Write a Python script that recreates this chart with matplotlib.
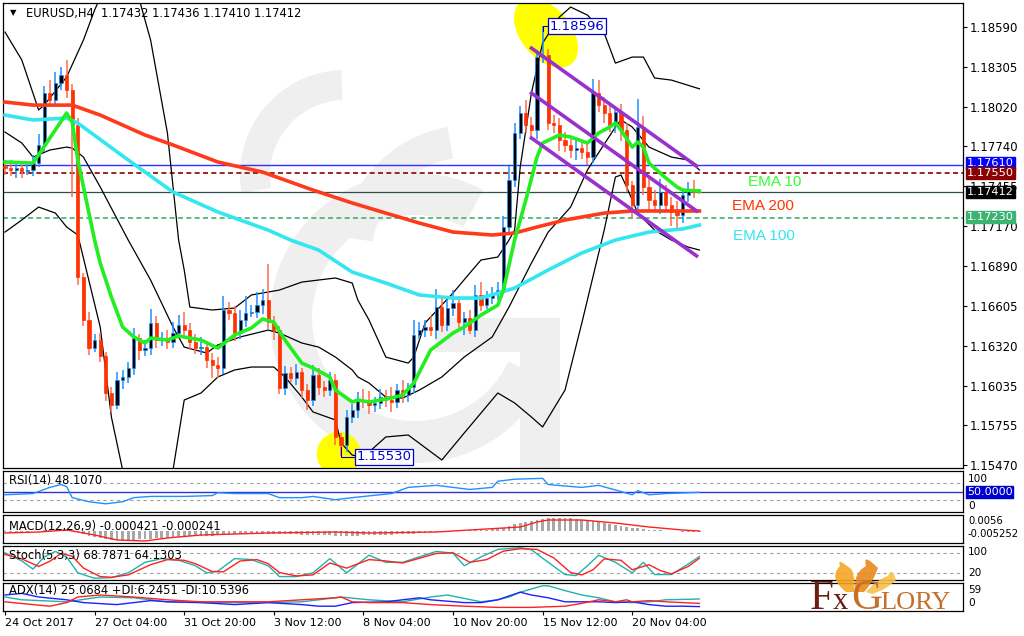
import matplotlib.pyplot as plt
import matplotlib.patches as mpatches
import matplotlib.transforms as mtrans
from matplotlib.path import Path
import numpy as np

plt.rcParams['font.family'] = ['DejaVu Sans']

# ---- EURUSD H4, bars from 24 Oct 2017 12:00 (one entry per bar) ----
first_open = 1.17600
closes = [1.17586, 1.17572, 1.17586, 1.17565, 1.17572, 1.17621, 1.17750, 1.18120, 1.18070, 1.18191,
          1.18248, 1.18141, 1.17892, 1.16810, 1.16504, 1.16304, 1.16361, 1.16247, 1.15984, 1.15898,
          1.16076, 1.16098, 1.16162, 1.16375, 1.16290, 1.16304, 1.16482, 1.16361, 1.16375, 1.16347,
          1.16411, 1.16468, 1.16432, 1.16347, 1.16304, 1.16311, 1.16219, 1.16183, 1.16162, 1.16575,
          1.16553, 1.16411, 1.16504, 1.16553, 1.16560, 1.16610, 1.16646, 1.16489, 1.16432, 1.16019,
          1.16126, 1.16091, 1.16133, 1.16005, 1.15934, 1.16112, 1.16027, 1.16005, 1.16076, 1.15671,
          1.15614, 1.15813, 1.15863, 1.15934, 1.15930, 1.15898, 1.15913, 1.15955, 1.15934, 1.15920,
          1.16005, 1.15970, 1.16027, 1.16397, 1.16432, 1.16454, 1.16432, 1.16596, 1.16468, 1.16589,
          1.16625, 1.16489, 1.16518, 1.16432, 1.16682, 1.16610, 1.16660, 1.16696, 1.16717, 1.17166,
          1.17500, 1.17835, 1.17977, 1.17892, 1.17856, 1.18376, 1.18390, 1.17906, 1.17892, 1.17785,
          1.17750, 1.17714, 1.17728, 1.17700, 1.17664, 1.18120, 1.18034, 1.17977, 1.17892, 1.17985,
          1.17856, 1.17465, 1.17322, 1.17878, 1.17451, 1.17358, 1.17322, 1.17415, 1.17322, 1.17273,
          1.17251, 1.17394, 1.17429, 1.17415, 1.17412]
wick_up = [4, 6, 3, 5, 4, 6, 8, 5, 9, 8, 6, 11, 4,
           5, 3, 6, 4, 5, 3, 4, 6, 5, 4, 7, 3, 6,
           10, 5, 4, 6, 8, 7, 9, 5, 6, 7, 4, 5, 6,
           10, 6, 5, 7, 12, 5, 9, 8, 26, 4, 3, 5, 4,
           6, 3, 4, 7, 5, 4, 6, 4, 3, 5, 4, 6, 8,
           7, 4, 6, 5, 9, 4, 7, 3, 11, 6, 5, 8, 13,
           7, 6, 9, 5, 4, 6, 7, 9, 5, 4, 6, 8, 10,
           7, 5, 9, 6, 5, 21, 4, 6, 5, 6, 4, 7, 5,
           8, 10, 9, 6, 7, 4, 6, 5, 3, 20, 8, 6, 7,
           9, 5, 6, 8, 5, 6, 7, 2]
wick_dn = [5, 4, 6, 5, 3, 4, 3, 5, 4, 3, 5, 6, 51,
           6, 4, 5, 3, 4, 6, 5, 3, 6, 4, 5, 7, 4,
           5, 6, 4, 5, 4, 3, 5, 6, 4, 5, 6, 9, 7,
           4, 5, 6, 4, 5, 3, 4, 6, 5, 7, 4, 5, 3,
           5, 6, 7, 4, 6, 5, 4, 6, 8, 5, 4, 6, 5,
           6, 5, 4, 5, 7, 4, 6, 5, 4, 3, 5, 4, 6,
           5, 4, 6, 5, 9, 3, 5, 4, 3, 4, 5, 3, 4,
           5, 4, 6, 7, 6, 4, 5, 6, 8, 5, 6, 7, 5,
           6, 4, 5, 7, 5, 6, 8, 5, 9, 4, 6, 7, 5,
           6, 5, 10, 9, 6, 5, 4, 1]

# moving averages
ema10_x = [0, 5, 11, 12, 13, 16, 17, 19, 21, 23, 25, 26, 29, 31, 35, 38, 41, 44, 46, 48,
           50, 53, 55, 58, 59, 62, 63, 65, 69, 71, 73, 76, 80, 82, 85, 88, 89, 91, 93, 95,
           96, 99, 101, 104, 106, 108, 109, 110, 112, 113, 114, 115, 118, 120, 121, 124]
ema10_y = [1.17629, 1.17621, 1.17977, 1.17913, 1.17643, 1.17073, 1.16909, 1.16667, 1.16454, 1.16383,
           1.16340, 1.16375, 1.16361, 1.16390, 1.16361, 1.16304, 1.16397, 1.16447, 1.16511, 1.16489,
           1.16361, 1.16197, 1.16162, 1.16098, 1.16005, 1.15920, 1.15934, 1.15920, 1.15948, 1.15970,
           1.16055, 1.16290, 1.16411, 1.16454, 1.16539, 1.16610, 1.16717, 1.17073, 1.17358, 1.17664,
           1.17764, 1.17821, 1.17807, 1.17764, 1.17835, 1.17878, 1.17906, 1.17856, 1.17735, 1.17771,
           1.17735, 1.17621, 1.17515, 1.17451, 1.17429, 1.17422]
ema200_x = [0, 5, 12, 17, 25, 30, 38, 46, 55, 62, 68, 74, 80, 87, 91, 95, 100, 107, 112, 121, 124]
ema200_y = [1.18056, 1.18034, 1.18034, 1.17963, 1.17821, 1.17750, 1.17629, 1.17557, 1.17429, 1.17337,
            1.17265, 1.17194, 1.17130, 1.17109, 1.17123, 1.17166, 1.17216, 1.17265, 1.17280, 1.17280,
            1.17280]
ema100_x = [0, 5, 11, 13, 22, 30, 38, 47, 51, 56, 62, 68, 74, 80, 85, 91, 97, 103, 109, 115, 121, 124]
ema100_y = [1.17963, 1.17928, 1.17942, 1.17906, 1.17643, 1.17415, 1.17273, 1.17144, 1.17073, 1.17002,
            1.16845, 1.16767, 1.16682, 1.16660, 1.16660, 1.16731, 1.16860, 1.16981, 1.17073, 1.17130,
            1.17152, 1.17180]

# Bollinger bands
bb_up_x = [0, 3, 6, 7, 11, 14, 16, 18, 21, 24, 26, 29, 31, 32, 33, 37, 41, 44, 49, 53,
           59, 62, 63, 65, 68, 72, 73, 75, 80, 83, 85, 88, 90, 91, 92, 94, 96, 99, 101, 104,
           107, 109, 112, 114, 116, 119, 124]
bb_up_y = [1.18554, 1.18355, 1.17999, 1.18034, 1.18234, 1.18497, 1.18711, 1.18889, 1.18924, 1.18782,
           1.18497, 1.17835, 1.17073, 1.16860, 1.16596, 1.16575, 1.16589, 1.16682, 1.16717, 1.16774,
           1.16803, 1.16767, 1.16646, 1.16504, 1.16240, 1.16197, 1.16240, 1.16482, 1.16696, 1.16838,
           1.16931, 1.16952, 1.17073, 1.17144, 1.17593, 1.18120, 1.18476, 1.18661, 1.18732, 1.18675,
           1.18547, 1.18333, 1.18376, 1.18376, 1.18227, 1.18212, 1.18150]
bb_mid_x = [0, 3, 5, 8, 11, 12, 14, 17, 22, 26, 30, 32, 36, 38, 42, 47, 49, 53, 56, 59,
            62, 63, 65, 68, 71, 74, 78, 82, 87, 90, 94, 97, 101, 104, 109, 110, 112, 115, 119, 122, 124]
bb_mid_y = [1.17842, 1.17764, 1.17664, 1.17714, 1.17735, 1.17728, 1.17664, 1.17451, 1.17073, 1.16788,
            1.16454, 1.16311, 1.16269, 1.16326, 1.16383, 1.16432, 1.16411, 1.16340, 1.16311, 1.16240,
            1.16148, 1.16098, 1.16055, 1.15955, 1.15948, 1.16005, 1.16098, 1.16240, 1.16383, 1.16596,
            1.16909, 1.17130, 1.17308, 1.17572, 1.17878, 1.17928, 1.17878, 1.17735, 1.17664, 1.17643,
            1.17572]
bb_lo_x = [0, 3, 6, 9, 11, 13, 17, 19, 21, 23, 28, 30, 32, 35, 38, 41, 44, 48, 50, 53,
           55, 59, 60, 62, 64, 68, 72, 78, 82, 88, 91, 94, 96, 100, 103, 107, 109, 110, 111, 113,
           116, 119, 122, 124]
bb_lo_y = [1.17130, 1.17216, 1.17308, 1.17265, 1.17166, 1.17109, 1.16454, 1.15813, 1.15436, 1.15080,
           1.14937, 1.15436, 1.15934, 1.15984, 1.16098, 1.16148, 1.16169, 1.16169, 1.16098, 1.15955,
           1.15849, 1.15792, 1.15628, 1.15542, 1.15528, 1.15671, 1.15685, 1.15507, 1.15699, 1.15984,
           1.15913, 1.15813, 1.15742, 1.16005, 1.16482, 1.17144, 1.17522, 1.17536, 1.17451, 1.17265,
           1.17144, 1.17073, 1.17023, 1.17002]

# descending channel (drawn trend lines)
chan_x = [93.75, 123.75]
chan_1 = [1.18447, 1.17593]
chan_2 = [1.18127, 1.17273]
chan_3 = [1.17807, 1.16953]

# horizontal levels
lvl_blue, lvl_red, lvl_bid, lvl_green = 1.17610, 1.17550, 1.17412, 1.17230
price_ticks = [1.18590, 1.18305, 1.18020, 1.17740, 1.17455, 1.17170,
               1.16890, 1.16605, 1.16320, 1.16035, 1.15755, 1.15470]

# RSI(14)
rsi_x = [0, 5, 8, 10, 11, 12, 15, 18, 21, 23, 26, 32, 37, 38, 41, 47, 49, 53, 55, 59,
         62, 69, 72, 77, 83, 87, 88, 91, 96, 97, 103, 106, 110, 112, 113, 115, 118, 124]
rsi_v = [42, 45, 60, 67, 62, 35, 25, 20, 25, 35, 38, 38, 40, 47, 45, 45, 35, 35, 38, 30,
         35, 45, 60, 65, 55, 60, 75, 80, 82, 67, 60, 65, 50, 42, 52, 42, 45, 48]

# MACD(12,26,9), units of 1e-4
macd_hist = [-2, -2, -2, -2, -2, -1, 0, 3, 4, 6, 7, 6, 4,
             -5, -12, -18, -22, -25, -29, -32, -33, -33, -32, -31, -29, -28, -27, -26, -25,
             -24, -22, -21, -20, -19, -18, -17, -16, -16, -15, -14, -13, -12, -11, -11, -10,
             -10, -9, -9, -10, -11, -12, -12, -12, -13, -13, -13, -13, -13, -15, -17, -18,
             -18, -17, -16, -15, -15, -14, -14, -13, -13, -12, -12, -11, -9, -7, -6, -5,
             -4, -3, -2, -1, 0, 1, 2, 3, 4, 5, 6, 8, 12, 18, 24, 28,
             32, 36, 40, 43, 45, 46, 46, 45, 44, 42, 40, 38, 35, 32, 28, 24,
             20, 17, 14, 11, 9, 7, 5, 3, 2, 1, 0, -1, -2, -3, -4, -4]
sig_x = [0, 6, 11, 16, 20, 25, 29, 35, 41, 47, 59, 65, 77, 86, 92, 95, 97, 103, 109, 115, 121, 124]
sig_v = [-7, -3.5, 3.5, -14, -31.5, -35, -24.5, -14, -10.5, -7, -3.5, -7, -3.5, 7, 14, 31.5,
         38.5, 38.5, 28, 14, 3.5, 0]

# Stochastic(5,3,3)
k_x = [0, 3, 5, 7, 9, 11, 13, 16, 19, 22, 25, 28, 31, 34, 36, 38, 41, 44, 47, 49,
       52, 55, 58, 61, 65, 68, 71, 77, 80, 82, 85, 88, 92, 94, 97, 100, 102, 104, 106, 109,
       112, 114, 116, 119, 122, 124]
k_v = [80, 56, 32, 68, 84, 68, 21, 5, 7, 21, 52, 63, 58, 42, 21, 26, 63, 60, 42, 10,
       10, 21, 63, 21, 73, 52, 52, 84, 79, 42, 68, 90, 95, 89, 52, 16, 13, 42, 73, 52,
       21, 52, 16, 16, 47, 69]
d_x = [0, 3, 6, 8, 10, 12, 14, 17, 19, 22, 26, 29, 32, 34, 37, 39, 42, 45, 47, 49,
       52, 55, 58, 61, 65, 68, 71, 77, 80, 83, 86, 89, 92, 95, 98, 101, 103, 105, 107, 110,
       112, 115, 117, 119, 122, 124]
d_v = [75, 62, 40, 55, 78, 70, 35, 10, 8, 15, 45, 60, 58, 48, 25, 24, 56, 60, 48, 22,
       12, 15, 50, 35, 60, 56, 50, 78, 80, 52, 60, 85, 92, 90, 65, 22, 15, 30, 62, 58,
       30, 45, 28, 18, 40, 64]

# ADX(14)
adx_x = [0, 3, 11, 17, 23, 29, 35, 41, 47, 53, 59, 60, 65, 71, 76, 79, 85, 88, 90, 92,
         96, 97, 100, 103, 106, 109, 112, 115, 118, 124]
adx_v = [27, 20, 15, 27, 25, 15, 13, 13, 13, 15, 25, 27, 20, 15, 27, 32, 15, 20, 27, 39,
         55, 55, 43, 32, 25, 15, 13, 15, 20, 22]
pdi_x = [0, 3, 6, 11, 14, 20, 26, 29, 35, 41, 47, 53, 56, 59, 62, 68, 74, 76, 82, 85,
         88, 92, 94, 97, 100, 103, 106, 109, 112, 115, 118, 121, 124]
pdi_v = [32, 36, 27, 20, 13, 8, 18, 15, 13, 8, 13, 8, 4, 4, 13, 15, 25, 20, 13, 13,
         20, 39, 32, 25, 15, 15, 15, 13, 15, 8, 4, 4, 3]
mdi_x = [0, 5, 8, 11, 13, 17, 23, 29, 35, 41, 47, 53, 59, 60, 62, 65, 71, 76, 82, 88,
         94, 100, 103, 106, 109, 111, 112, 115, 118, 121, 124]
mdi_v = [15, 8, 4, 13, 27, 32, 27, 20, 15, 15, 15, 20, 25, 27, 15, 13, 13, 8, 4, 1,
         1, 4, 11, 20, 15, 20, 15, 18, 15, 13, 11]

date_ticks = [0, 16, 32, 48, 64, 80, 96, 112]
date_labels = ['24 Oct 2017', '27 Oct 04:00', '31 Oct 20:00', '3 Nov 12:00',
               '8 Nov 04:00', '10 Nov 20:00', '15 Nov 12:00', '20 Nov 04:00']

# ---------------------------------------------------------------------
W, H = 1024, 636
fig = plt.figure(figsize=(W / 100, H / 100), dpi=100)
PIX = mtrans.IdentityTransform()   # display pixels, origin bottom-left


def rect(l, t, r, b):
    return [l / W, 1 - b / H, (r - l) / W, (b - t) / H]


XL = (-0.36, 171.07)


def panel(l, t, r, b):
    a = fig.add_axes(rect(l, t, r, b))
    a.set_xlim(*XL)
    a.set_xticks([])
    a.set_yticks([])
    for s in a.spines.values():
        s.set_linewidth(0.9)
    return a


ax = panel(3, 3, 963, 468)
ax.set_ylim(1.15450, 1.18761)

# watermark (light grey G with swooshes)
wm = '#efefef'
for cx, cy, r, w, t1, t2 in [(415, 318, 145, 42, 62, 335),
                             (345, 175, 105, 30, 92, 190),
                             (470, 255, 130, 32, 100, 172)]:
    ax.add_patch(mpatches.Wedge((cx, H - cy), r, t1, t2, width=w, transform=PIX,
                                color=wm, lw=0, zorder=0))
ax.add_patch(mpatches.Rectangle((435, H - 352), 125, 34, transform=PIX, color=wm, lw=0, zorder=0))
ax.add_patch(mpatches.Rectangle((520, H - 470), 40, 118, transform=PIX, color=wm, lw=0, zorder=0))


# yellow highlights
def blob(x, y, w, h, ang):
    tr = fig.dpi_scale_trans + mtrans.ScaledTranslation(x, y, ax.transData)
    ax.add_patch(mpatches.Ellipse((0, 0), w / 100, h / 100, angle=ang,
                                  transform=tr, color='#ffff00', lw=0, zorder=1))


blob(96.6, 1.18547, 80, 50, -50)
blob(59.6, 1.15550, 44, 44, 0)

# horizontal levels
ax.axhline(lvl_blue, color='#3030ff', lw=1.0, zorder=2)
ax.axhline(lvl_red, color='#8b0000', lw=1.2, ls=(0, (3, 2)), zorder=2)
ax.axhline(lvl_bid, color='#2f4f4f', lw=0.9, zorder=2)
ax.axhline(lvl_green, color='#3cb371', lw=1.2, ls=(0, (3, 2)), zorder=2)

# Bollinger bands
for bx, by in [(bb_up_x, bb_up_y), (bb_mid_x, bb_mid_y), (bb_lo_x, bb_lo_y)]:
    ax.plot(bx, by, color='black', lw=0.9, zorder=2.5)

# candles
c = np.array(closes)
o = np.concatenate([[first_open], c[:-1]])
hi = np.maximum(o, c) + np.array(wick_up) * 1e-4
lo = np.minimum(o, c) - np.array(wick_dn) * 1e-4
idx = np.arange(len(c))
bull = c >= o
bot = np.minimum(o, c)
hgt = np.maximum(np.abs(c - o), 0.00003)
ax.vlines(idx[bull], lo[bull], hi[bull], color='#1e90ff', lw=1.1, zorder=3)
ax.vlines(idx[~bull], lo[~bull], hi[~bull], color='#ff6a4d', lw=1.1, zorder=3)
ax.bar(idx[bull], hgt[bull], bottom=bot[bull], width=0.6, color='black',
       edgecolor='#1e90ff', lw=0.5, zorder=3.2)
ax.bar(idx[~bull], hgt[~bull], bottom=bot[~bull], width=0.6, color='#ff3300',
       edgecolor='#ff3300', lw=0.5, zorder=3.2)

# EMAs
ax.plot(ema200_x, ema200_y, color='#ff3a1a', lw=2.6, zorder=4)
ax.plot(ema100_x, ema100_y, color='#33e6f0', lw=2.6, zorder=4)
ax.plot(ema10_x, ema10_y, color='#22ee22', lw=2.6, zorder=4.2)

# channel
for ch in (chan_1, chan_2, chan_3):
    ax.plot(chan_x, ch, color='#9932cc', lw=2.6, zorder=5, solid_capstyle='butt')

ax.text(132.7, 1.17486, 'EMA 10', color='#33ff33', fontsize=11, va='center',
        family='Liberation Sans', zorder=6)
ax.text(129.8, 1.17315, 'EMA 200', color='#ff3300', fontsize=11, va='center',
        family='Liberation Sans', zorder=6)
ax.text(130.0, 1.17102, 'EMA 100', color='#33e6f0', fontsize=11, va='center',
        family='Liberation Sans', zorder=6)

# high / low labels
ax.plot([96, 96, 97.3], [1.18560, 1.18596, 1.18596], color='#0000cc', lw=0.8, zorder=6)
ax.text(97.3, 1.18596, '1.18596', color='#0000cc', fontsize=9.5, va='center', ha='left',
        bbox=dict(boxstyle='square,pad=0.12', fc='white', ec='#0000cc', lw=0.9), zorder=7)
ax.plot([60, 60, 62.6], [1.15600, 1.15530, 1.15530], color='#0000cc', lw=0.8, zorder=6)
ax.text(62.7, 1.15530, '1.15530', color='#0000cc', fontsize=9.5, va='center', ha='left',
        bbox=dict(boxstyle='square,pad=0.12', fc='white', ec='#0000cc', lw=0.9), zorder=7)

# header
fig.text(10 / W, 1 - 13 / H, '\u25bc', fontsize=6, va='center', color='black')
fig.text(26 / W, 1 - 13 / H, 'EURUSD,H4  1.17432 1.17436 1.17410 1.17412',
         fontsize=8.3, va='center', color='black')

# price axis
ax.yaxis.tick_right()
ax.set_yticks(price_ticks)
ax.set_yticklabels(['%.5f' % p for p in price_ticks])
ax.tick_params(axis='y', direction='out', length=3, pad=2, labelsize=8.5, width=0.8)


def tag(py, s, bg, fg='white', fs=8.2):
    fig.text(967 / W, 1 - py / H, s, fontsize=fs, color=fg, va='center', ha='left',
             bbox=dict(boxstyle='square,pad=0.06', fc=bg, ec=bg), zorder=10)


tag(163, '1.17610', '#0000ff')
tag(173, '1.17550', '#8b0000')
tag(192, '1.17412', '#000000')
tag(217, '1.17230', '#3cb371')


def side(py, s, fs=7.6):
    fig.text(968 / W, 1 - py / H, s, fontsize=fs, color='black', va='center', ha='left')


LBL = 8.3

# RSI
ar = panel(3, 471, 963, 512)
ar.set_ylim(0, 100)
for lv in (70, 30):
    ar.axhline(lv, color='#a0a0a0', lw=0.8, ls=(0, (3, 3)))
ar.axhline(50, color='#3333cc', lw=1.0)
ar.plot(rsi_x, rsi_v, color='#1e90ff', lw=1.0)
ar.text(0.006, 0.78, 'RSI(14) 48.1070', transform=ar.transAxes, fontsize=LBL, va='center')
side(479, '100')
side(506, '0')
tag(492, '50.0000', '#0000cc', fs=8)

# MACD
am = panel(3, 515, 963, 543)
am.set_ylim(-42, 56)
am.bar(idx, macd_hist, width=0.5, color='#a8a8a8')
am.plot(sig_x, sig_v, color='#ff2020', lw=1.0)
am.text(0.006, 0.6, 'MACD(12,26,9) -0.000421 -0.000241', transform=am.transAxes,
        fontsize=LBL, va='center')
side(521, '0.0056', fs=7.2)
side(534, '-0.005252', fs=7.2)

# Stochastic
ast = panel(3, 546, 963, 580)
ast.set_ylim(0, 100)
for lv in (80, 20):
    ast.axhline(lv, color='#a0a0a0', lw=0.8, ls=(0, (3, 3)))
ast.plot(k_x, k_v, color='#20b2aa', lw=1.0)
ast.plot(d_x, d_v, color='#ff2020', lw=1.0)
ast.text(0.006, 0.72, 'Stoch(5,3,3) 68.7871 64.1303', transform=ast.transAxes,
         fontsize=LBL, va='center')
side(552, '100')
side(573, '20')

# ADX
aa = panel(3, 583, 963, 611)
aa.set_ylim(-8, 62)
aa.plot(adx_x, adx_v, color='#20b2aa', lw=1.0)
aa.plot(pdi_x, pdi_v, color='#1f1fff', lw=1.0)
aa.plot(mdi_x, mdi_v, color='#ff2020', lw=1.0)
aa.text(0.006, 0.72, 'ADX(14) 25.0684 +DI:6.2451 -DI:10.5396', transform=aa.transAxes,
        fontsize=LBL, va='center')
side(590, '59')
side(603, '0')
aa.set_xticks(date_ticks)
aa.set_xticklabels(date_labels)
aa.tick_params(axis='x', direction='out', length=3, pad=2, labelsize=8, width=0.8)
for lb in aa.get_xticklabels():
    lb.set_ha('left')

# FxGlory logo: flame + lettering
flame_cols = ['#f5a623', '#e8891c', '#f7c04a']
tongues = [[(846, 592), (828, 578), (840, 566), (836, 556), (852, 570), (856, 582), (854, 592)],
           [(856, 592), (852, 574), (866, 566), (862, 552), (878, 568), (872, 584), (864, 592)],
           [(866, 592), (876, 580), (888, 576), (892, 566), (896, 580), (886, 590), (872, 594)]]
for col, pts in zip(flame_cols, tongues):
    verts = [(x, H - y) for x, y in pts] + [(pts[0][0], H - pts[0][1])]
    codes = [Path.MOVETO, Path.CURVE3, Path.CURVE3, Path.CURVE3, Path.CURVE3,
             Path.CURVE3, Path.CURVE3, Path.CLOSEPOLY]
    fig.add_artist(mpatches.PathPatch(Path(verts, codes), transform=PIX, fc=col, ec='none',
                                      alpha=0.9))

fig.text(810 / W, 1 - 609 / H, 'F', fontsize=31, color='#6b1f10', family='Liberation Serif',
         va='baseline')
fig.text(833 / W, 1 - 609 / H, 'x', fontsize=22, color='#6b1f10', family='Liberation Serif',
         va='baseline')
fig.text(851 / W, 1 - 609 / H, 'G', fontsize=31, color='#c2702a', family='Liberation Serif',
         va='baseline')
fig.text(880 / W, 1 - 609 / H, 'LORY', fontsize=19, color='#c2702a', family='Liberation Serif',
         va='baseline')

fig.savefig('out.png', dpi=100)
